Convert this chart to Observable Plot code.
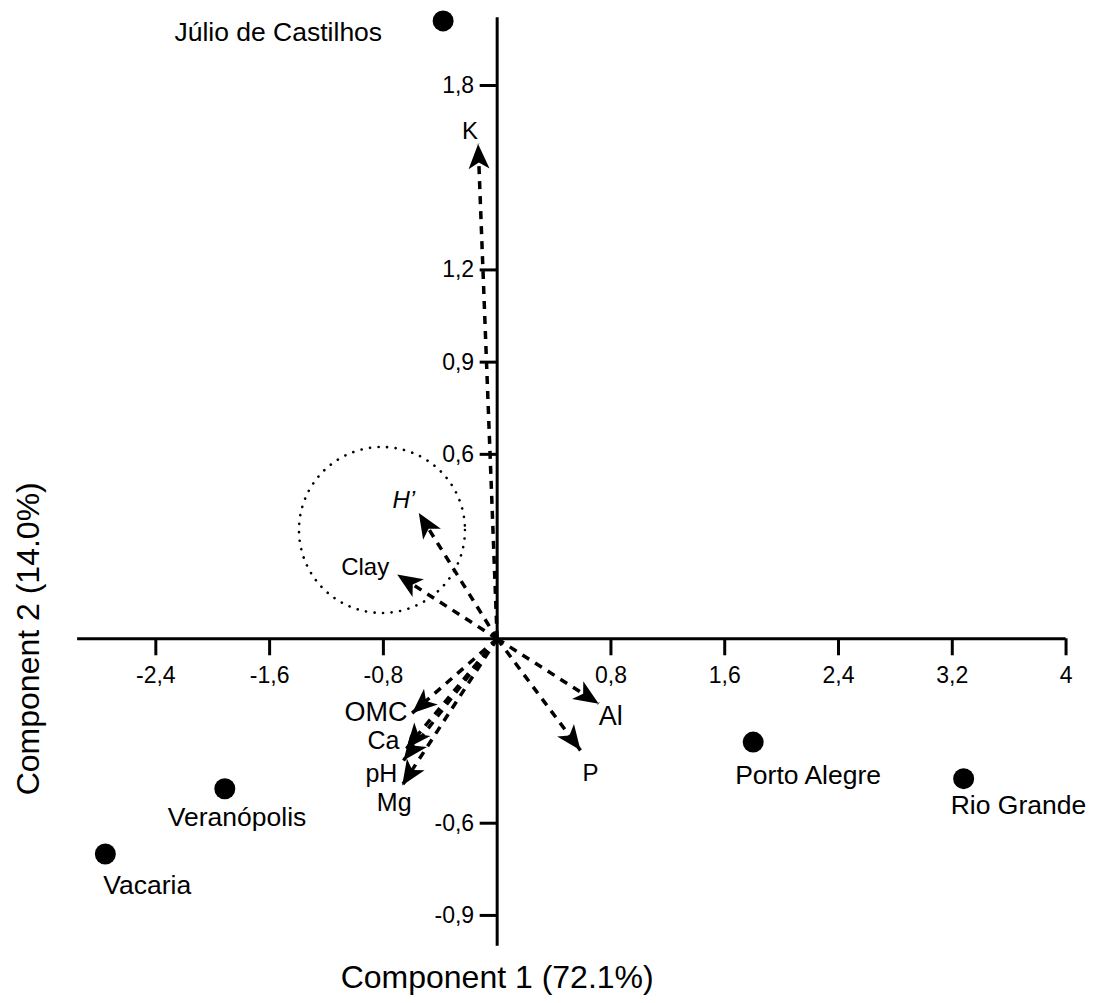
<!DOCTYPE html>
<html>
<head>
<meta charset="utf-8">
<script src="https://cdn.jsdelivr.net/npm/d3@7"></script>
<script src="https://cdn.jsdelivr.net/npm/@observablehq/plot@0.6"></script>
<style>
  html, body { margin: 0; padding: 0; background: #fff; }
  #chart svg { display: block; }
</style>
</head>
<body>
<div id="chart"></div>
<script>
// ---- Data ----
const xTicks = [-2.4, -1.6, -0.8, 0.8, 1.6, 2.4, 3.2, 4];
const xTickLabels = ["-2,4", "-1,6", "-0,8", "0,8", "1,6", "2,4", "3,2", "4"];
const yTicks = [1.8, 1.2, 0.9, 0.6, -0.6, -0.9];
const yTickLabels = ["1,8", "1,2", "0,9", "0,6", "-0,6", "-0,9"];

const sites = ["Júlio de Castilhos", "Porto Alegre", "Rio Grande", "Veranópolis", "Vacaria"];
const siteX = [-0.38, 1.80, 3.28, -1.915, -2.755];
const siteY = [2.01, -0.336, -0.455, -0.488, -0.70];

const variables = ["K", "H’", "Clay", "Al", "P", "OMC", "Ca", "pH", "Mg"];
const varX = [-0.134, -0.551, -0.703, 0.714, 0.586, -0.598, -0.638, -0.659, -0.668];
const varY = [1.61, 0.409, 0.209, -0.211, -0.363, -0.242, -0.357, -0.396, -0.477];

const circleCenterX = [-0.81];
const circleCenterY = [0.354];

const xTitle = "Component 1 (72.1%)";
const yTitle = "Component 2 (14.0%)";

// ---- Layout / style ----
const W = 1095, H = 1003;
const mL = 70, mR = 1, mT = 2, mB = 2;
const xDomain = [-3, 4.2];
const yDomain = [-1.18, 2.07];
const kx = (W - mL - mR) / (xDomain[1] - xDomain[0]);
const ky = (H - mT - mB) / (yDomain[1] - yDomain[0]);
const font = "'Liberation Sans', Arial, Helvetica, sans-serif";

const siteLabelStyle = {
  "Júlio de Castilhos": {anchor: "end", dx: -61, dy: 12},
  "Porto Alegre": {anchor: "start", dx: -18, dy: 33},
  "Rio Grande": {anchor: "start", dx: -13, dy: 27},
  "Veranópolis": {anchor: "start", dx: -57, dy: 29},
  "Vacaria": {anchor: "start", dx: -2, dy: 32}
};
const varLabelStyle = {
  "K": {dx: -8, dy: -13, size: 24},
  "H’": {dx: -15, dy: -13, size: 24, italic: true},
  "Clay": {dx: -32, dy: -7, size: 24},
  "Al": {dx: 12, dy: 13, size: 27},
  "P": {dx: 10, dy: 23, size: 24},
  "OMC": {dx: -36, dy: -1, size: 27},
  "Ca": {dx: -23, dy: -8, size: 25},
  "pH": {dx: -22, dy: 13, size: 25},
  "Mg": {dx: -8, dy: 18, size: 25}
};

// arrowhead symbol: tip at origin, pointing up
const arrowHead = {
  draw(ctx) {
    ctx.moveTo(0, 0);
    ctx.lineTo(-10.5, 25);
    ctx.lineTo(0, 18.5);
    ctx.lineTo(10.5, 25);
    ctx.closePath();
  }
};

const vIdx = variables.map((_, i) => i);
const sIdx = sites.map((_, i) => i);
const rot = i => Math.atan2(varX[i] * kx, varY[i] * ky) * 180 / Math.PI;

const marks = [
  // dotted circle
  Plot.dot([0], {x: () => circleCenterX[0], y: () => circleCenterY[0], r: 83,
    fill: "none", stroke: "black", strokeWidth: 2.6, strokeDasharray: "0.1 8.5", strokeLinecap: "round"}),
  // axes
  Plot.ruleY([0], {x1: -2.95, x2: 4.0, stroke: "black", strokeWidth: 3}),
  Plot.ruleX([0], {y1: -1.0, y2: 2.02, stroke: "black", strokeWidth: 3}),
  // x ticks
  Plot.ruleX(xTicks, {x: d => d, y1: 0, y2: 0, insetBottom: -17, stroke: "black", strokeWidth: 3}),
  Plot.text(xTicks, {x: d => d, y: () => 0, text: (d, i) => xTickLabels[i], dy: 37,
    fontSize: 23, fontFamily: font, fill: "black"}),
  // y ticks
  Plot.ruleY(yTicks, {y: d => d, x1: 0, x2: 0, insetLeft: -17, stroke: "black", strokeWidth: 3}),
  Plot.text(yTicks, {y: d => d, x: () => 0, text: (d, i) => yTickLabels[i], dx: -23, textAnchor: "end",
    fontSize: 23, fontFamily: font, fill: "black"}),
  // arrow shafts
  Plot.link(vIdx, {x1: () => 0, y1: () => 0, x2: i => varX[i], y2: i => varY[i],
    stroke: "black", strokeWidth: 3.5, strokeDasharray: "8 7"}),
  // arrowheads
  Plot.dot(vIdx, {x: i => varX[i], y: i => varY[i], symbol: arrowHead, rotate: rot,
    fill: "black", stroke: "none", r: 10}),
  // sites
  Plot.dot(sIdx, {x: i => siteX[i], y: i => siteY[i], r: 10.5, fill: "black", stroke: "none"}),
  // axis titles
  Plot.text([xTitle], {x: () => 0, frameAnchor: "bottom", dy: -24, lineAnchor: "middle",
    textAnchor: "middle", fontSize: 32, fontFamily: font, fill: "black"}),
  Plot.text([yTitle], {y: () => 0, frameAnchor: "left", dx: -42, rotate: -90, lineAnchor: "middle",
    textAnchor: "middle", fontSize: 32, fontFamily: font, fill: "black"})
];

sites.forEach((s, i) => {
  const st = siteLabelStyle[s];
  marks.push(Plot.text([s], {x: () => siteX[i], y: () => siteY[i], text: d => d,
    textAnchor: st.anchor, dx: st.dx, dy: st.dy, fontSize: 26.5, fontFamily: font, fill: "black"}));
});
variables.forEach((v, i) => {
  const st = varLabelStyle[v];
  marks.push(Plot.text([v], {x: () => varX[i], y: () => varY[i], text: d => d,
    dx: st.dx, dy: st.dy, fontSize: st.size, fontFamily: font, fill: "black",
    fontStyle: st.italic ? "italic" : "normal"}));
});

const chart = Plot.plot({
  width: W, height: H,
  marginLeft: mL, marginRight: mR, marginTop: mT, marginBottom: mB,
  x: {domain: xDomain, axis: null},
  y: {domain: yDomain, axis: null},
  style: {background: "white", fontFamily: font, overflow: "visible"},
  marks
});
document.getElementById("chart").appendChild(chart);
</script>
</body>
</html>
